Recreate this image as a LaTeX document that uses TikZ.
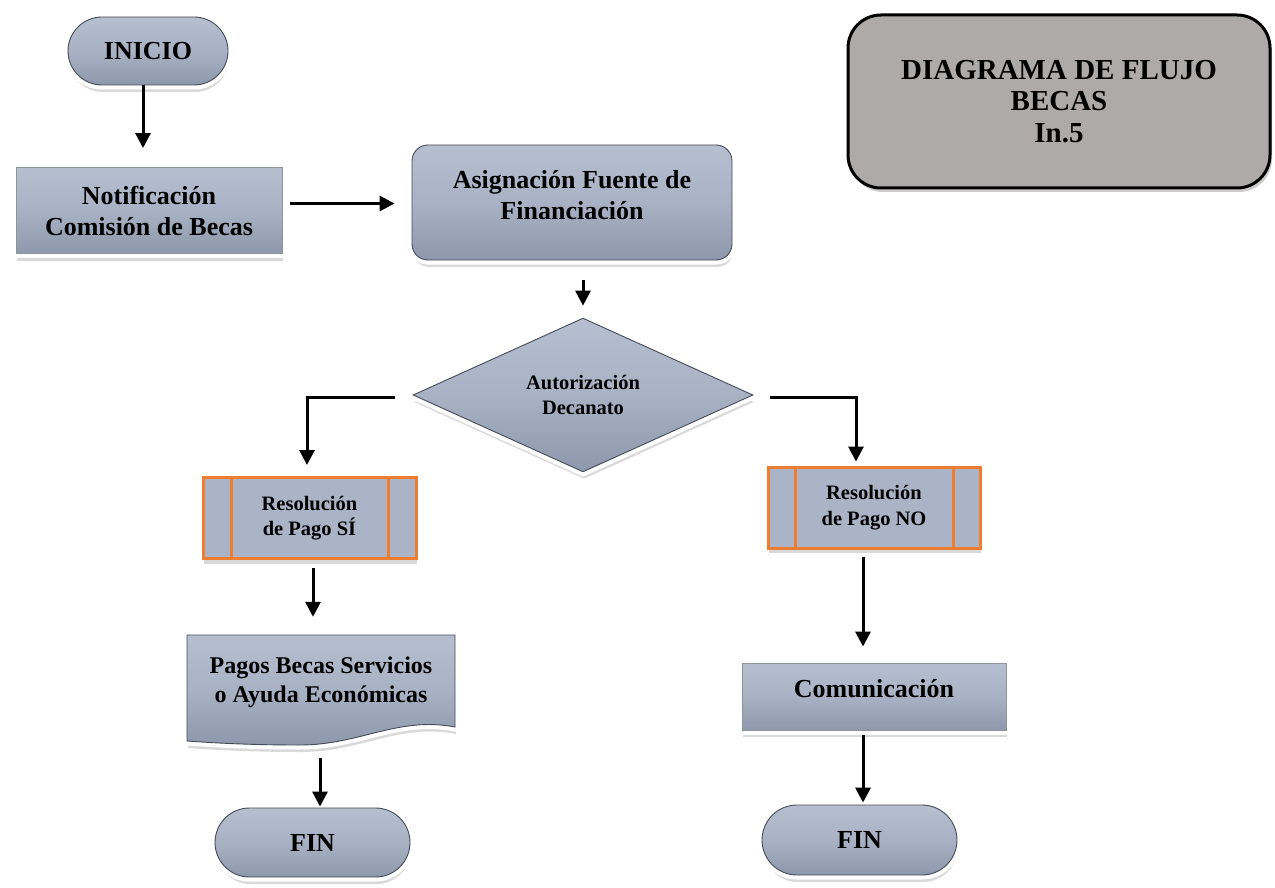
\documentclass[tikz,border=0pt]{standalone}
\usepackage{fontspec}
\setmainfont{Liberation Serif}
\usetikzlibrary{arrows.meta,shapes.geometric,shapes.misc,shadows}

\definecolor{boxfill}{HTML}{A8B2C4}
\definecolor{boxtop}{HTML}{B6BFD0}
\definecolor{boxbot}{HTML}{8E98AC}
\definecolor{boxedge}{HTML}{454B57}
\definecolor{procorange}{HTML}{ED7D31}
\definecolor{procfill}{HTML}{AAB4C6}
\definecolor{titlefill}{HTML}{AEAAAA}

\tikzset{
  txtbig/.style={font=\bfseries\fontsize{26}{31}\selectfont},
  txtmid/.style={font=\bfseries\fontsize{24}{29}\selectfont},
  txtsmall/.style={font=\bfseries\fontsize{20.5}{25.5}\selectfont},
  txttitle/.style={font=\bfseries\fontsize{29}{31.5}\selectfont},
  bevel/.style={
    drop shadow={shadow xshift=1pt, shadow yshift=-7pt, fill=black, opacity=0.15},
    preaction={draw=white, line width=9pt},
    top color=boxtop, bottom color=boxbot, middle color=boxfill,
    draw=boxedge, line width=0.9pt},
  flatbox/.style={bevel, draw=boxedge!60, align=center, inner sep=0pt},
  term/.style={rounded rectangle, bevel, align=center, inner sep=0pt},
  decision/.style={diamond, bevel, align=center, inner sep=0pt},
  procbox/.style={rectangle, fill=procfill, draw=procorange, line width=3pt,
    drop shadow={shadow xshift=1pt, shadow yshift=-5pt, fill=black, opacity=0.15},
    align=center, inner sep=0pt,
    path picture={
      \draw[procorange, line width=3pt]
        ([xshift=#1]path picture bounding box.north west) --
        ([xshift=#1]path picture bounding box.south west);
      \draw[procorange, line width=3pt]
        ([xshift=-#1]path picture bounding box.north east) --
        ([xshift=-#1]path picture bounding box.south east);
    }},
  arr/.style={-{Triangle[length=15pt,width=15pt]}, line width=3pt, black}
}

\begin{document}
\begin{tikzpicture}[x=1pt, y=-1pt]
  \fill[white] (0,0) rectangle (1275,888);
  \useasboundingbox (0,0) rectangle (1275,888);

  % title block
  \node[rectangle, rounded corners=33pt, fill=titlefill, draw=black, line width=3pt,
        drop shadow={shadow xshift=2pt, shadow yshift=-4pt, fill=black, opacity=0.2},
        minimum width=422, minimum height=173, align=center, txttitle]
        (title) at (1059,101.5) {DIAGRAMA DE FLUJO\\BECAS\\In.5};

  % main column
  \node[term, minimum width=160, minimum height=68, txtbig] (inicio) at (148,51) {INICIO};
  \node[flatbox, minimum width=266, minimum height=86, txtbig] (notif) at (149,210.5)
        {Notificación\\Comisión de Becas};
  \node[rectangle, rounded corners=16pt, bevel, align=center, inner sep=0pt,
        minimum width=320, minimum height=115, text depth=15pt, txtbig]
        (asig) at (572,202.5) {Asignación Fuente de\\Financiación};
  \node[decision, minimum width=340, minimum height=150, txtsmall] (dia) at (583,395)
        {Autorización\\Decanato};

  % left branch
  \node[procbox=28pt, minimum width=213, minimum height=81, txtsmall] (ressi) at (309.5,518)
        {Resolución\\de Pago SÍ};
  \draw[bevel] (187,635) -- (455,635) -- (455,727)
        .. controls (398,716) and (360,745) .. (300,745)
        .. controls (250,745) and (215,743) .. (187,741) -- cycle;
  \node[rectangle, minimum width=268, minimum height=94, align=center, inner sep=0pt, txtmid]
        (pagos) at (321,682) {Pagos Becas Servicios\\o Ayuda Económicas};
  \node[term, minimum width=195, minimum height=69, txtbig] (finsi) at (312.5,842.5) {FIN};

  % right branch
  \node[procbox=27pt, minimum width=212, minimum height=81, txtsmall] (resno) at (874,507.5)
        {Resolución\\de Pago NO};
  \node[flatbox, minimum width=264, minimum height=67, text depth=16pt, txtbig]
        (com) at (874,696.5) {Comunicación};
  \node[term, minimum width=195, minimum height=70, txtbig] (finno) at (859.5,840) {FIN};

  % connectors
  \draw[arr, shorten >=19pt] ([xshift=-5pt]inicio.south) -- ([xshift=-5pt]inicio.south |- notif.north);
  \draw[arr, shorten <=8pt, shorten >=17pt] ([yshift=7pt]notif.east) -- ([yshift=7pt]notif.east -| asig.west);
  \draw[arr, shorten <=20pt, shorten >=12pt] (asig.south -| dia.north) -- (dia.north);
  \draw[arr, shorten <=18pt, shorten >=11pt] ([yshift=-2pt]dia.west) -| ([xshift=-2.5pt]ressi.north);
  \draw[arr, shorten <=17pt, shorten >=4pt] ([yshift=-2pt]dia.east) -| ([xshift=-18pt]resno.north);
  \draw[arr, shorten <=8pt, shorten >=18pt] ([xshift=3.5pt]ressi.south) -- ([xshift=3.5pt]ressi.south |- pagos.north);
  \draw[arr, shorten <=29pt, shorten >=1pt] ([xshift=-1pt]pagos.south) -- ([xshift=-1pt]pagos.south |- finsi.north);
  \draw[arr, shorten <=7pt, shorten >=16pt] ([xshift=-11pt]resno.south) -- ([xshift=-11pt]resno.south |- com.north);
  \draw[arr, shorten <=5pt, shorten >=2pt] ([xshift=-11pt]com.south) -- ([xshift=-11pt]com.south |- finno.north);
\end{tikzpicture}
\end{document}
